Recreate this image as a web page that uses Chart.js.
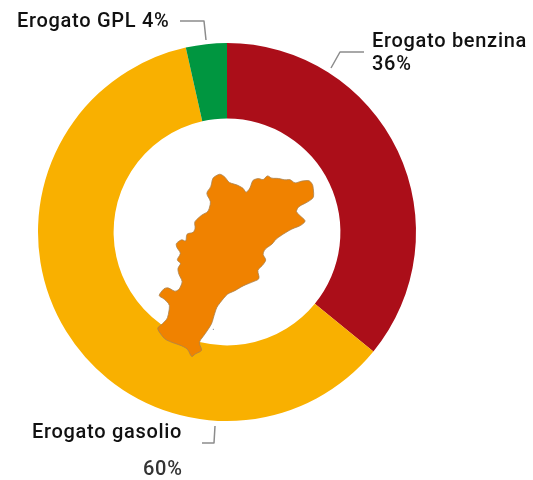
<!DOCTYPE html>
<html><head><meta charset="utf-8">
<style>html,body{margin:0;padding:0;background:#fff}canvas{display:block}</style>
<script src="https://cdn.jsdelivr.net/npm/chart.js@4"></script></head>
<body><canvas id="c" width="533" height="480"></canvas>
<script>
const categories = ['Erogato benzina','Erogato gasolio','Erogato GPL'];
const shares = [35.9, 60.6, 3.5];
const shownPercent = ['36%','60%','4%'];
const sliceColours = ['#AB0E19','#F9B000','#009640'];
const mapOutline = [[210,26],[225,36],[237,53],[262,60],[280,70],[288,84],[300,70],[308,45],[325,40],[340,45],[352,31],[365,40],[385,40],[405,45],[420,43],[435,55],[455,48],[478,46],[489,60],[492,97],[475,110],[445,125],[438,140],[450,152],[468,168],[452,182],[425,192],[400,207],[378,222],[367,237],[345,252],[338,268],[349,285],[337,302],[322,315],[329,342],[305,352],[280,362],[255,377],[232,387],[215,407],[200,427],[192,452],[185,477],[165,507],[146,532],[157,557],[135,567],[125,577],[113,552],[95,542],[65,532],[43,522],[20,490],[38,476],[53,460],[60,420],[43,402],[25,392],[42,370],[55,368],[75,380],[88,373],[98,350],[86,327],[83,310],[93,295],[80,285],[93,265],[80,247],[78,235],[95,223],[108,230],[110,206],[130,203],[136,190],[133,170],[155,150],[175,140],[183,110],[168,85],[183,65],[188,38]];
const mapDot = [190,493];
const leaderLines = [
  [[331,68],[340,52],[364,52]],
  [[202,443],[214,443],[215,426]],
  [[180,21],[204,21],[206,40]]
];
const labelTexts = [
  [categories[0],372,41.5,'#111'],[shownPercent[0],372,64.5,'#111'],
  [categories[1],32,432.5,'#111'],[shownPercent[1],143,469.5,'#333'],
  [categories[2]+' '+shownPercent[2],17,22,'#111']
];
const overlay = {
  id:'overlay',
  afterDraw(chart){
    const g = chart.ctx;
    const pt = ([x,y]) => [150+x/3, 165+y/3];
    const pts = mapOutline.map(pt);
    g.save();
    g.beginPath();
    const n = pts.length;
    const blend = (a,b,t)=>[a[0]+(b[0]-a[0])*t,a[1]+(b[1]-a[1])*t];
    const s = blend(pts[n-1],pts[0],0.7);
    g.moveTo(s[0],s[1]);
    pts.forEach((p,i)=>{
      const next = pts[(i+1)%n];
      const a = blend(p,next,0.3), b = blend(p,next,0.7);
      g.quadraticCurveTo(p[0],p[1],a[0],a[1]);
      g.lineTo(b[0],b[1]);
    });
    g.closePath();
    g.fillStyle = '#F08200';
    g.strokeStyle = '#A9824F';
    g.lineWidth = 0.8;
    g.lineJoin = 'round';
    g.fill(); g.stroke();
    const d = pt(mapDot);
    g.fillStyle = '#6F7F8F';
    g.fillRect(d[0]-0.5,d[1]-0.5,1,1);
    g.strokeStyle = '#8C8C8C';
    g.lineWidth = 1.5;
    leaderLines.forEach(l=>{
      g.beginPath();
      l.forEach(([x,y],i)=> i ? g.lineTo(x,y) : g.moveTo(x,y));
      g.stroke();
    });
    g.font = '500 20px Roboto, sans-serif';
    g.letterSpacing = '0.7px';
    g.textBaseline = 'middle';
    g.textAlign = 'left';
    labelTexts.forEach(([t,x,y,c])=>{g.fillStyle=c;g.fillText(t,x,y);});
    g.restore();
  }
};
new Chart(document.getElementById('c'),{
  type:'doughnut',
  data:{labels:categories,datasets:[{data:shares,backgroundColor:sliceColours,borderWidth:0}]},
  options:{
    responsive:false,animation:false,cutout:'60%',
    layout:{padding:{left:38,right:117,top:43,bottom:59}},
    plugins:{legend:{display:false},tooltip:{enabled:false}}
  },
  plugins:[overlay]
});
</script></body></html>
